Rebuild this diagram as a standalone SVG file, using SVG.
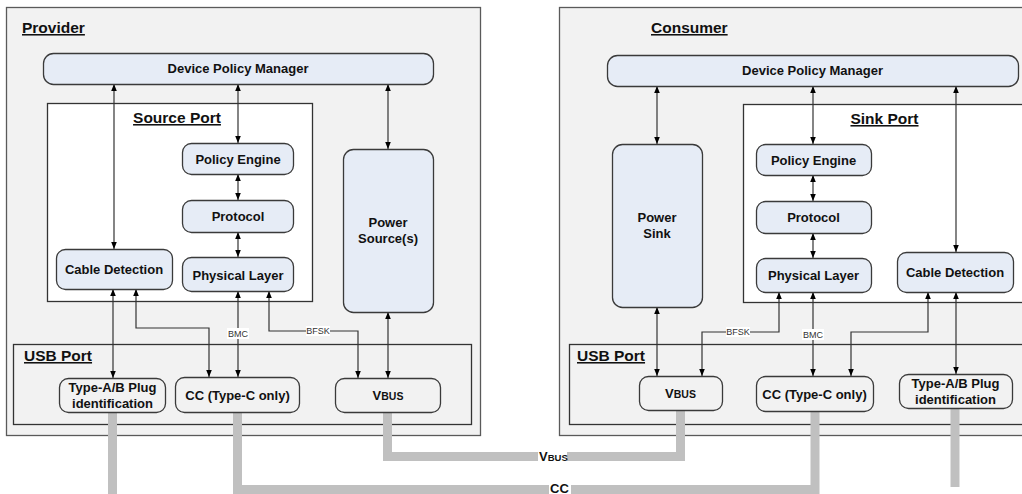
<svg xmlns="http://www.w3.org/2000/svg" width="1022" height="494" viewBox="0 0 1022 494">
<style>
text{font-family:"Liberation Sans",Arial,sans-serif;fill:#111}
.outer{fill:#f2f2f2;stroke:#5a5a5a;stroke-width:1.3}
.port{fill:#ffffff;stroke:#333;stroke-width:1.3}
.usb{fill:#f2f2f2;stroke:#333;stroke-width:1.3}
.blue{fill:#e6ecf6;stroke:#3a3a3a;stroke-width:1.3}
.gray{fill:#f2f2f2;stroke:#3a3a3a;stroke-width:1.3}
.title{font-size:15.5px;font-weight:bold;text-decoration:underline}
.lbl{font-size:13px;font-weight:bold;text-anchor:middle}
.small{font-size:9px;text-anchor:middle;fill:#333}
.conn{fill:none;stroke:#333;stroke-width:1.2;marker-start:url(#ah);marker-end:url(#ah)}
.cable{fill:none;stroke:#c0c0c0;stroke-width:9}
.cl{font-size:13px;font-weight:bold}
</style>
<defs>
<marker id="ah" viewBox="0 0 10 10" refX="10" refY="5" markerWidth="7" markerHeight="7" markerUnits="userSpaceOnUse" orient="auto-start-reverse">
<path d="M0,1 L10,5 L0,9 z" fill="#000"/>
</marker>
</defs>

<g id="provider">
<rect class="outer" x="6.5" y="7.5" width="474" height="428"/>
<text class="title" x="22" y="33">Provider</text>
</g>
<g id="consumer">
<rect class="outer" x="559.5" y="7.5" width="470" height="428"/>
<text class="title" x="651" y="33">Consumer</text>
</g>
<g id="source-port">
<rect class="port" x="47.5" y="103.5" width="265" height="198"/>
<text class="title" x="177" y="123" text-anchor="middle">Source Port</text>
</g>
<g id="sink-port">
<rect class="port" x="743.5" y="104.5" width="290" height="198"/>
<text class="title" x="884.5" y="124" text-anchor="middle">Sink Port</text>
</g>
<g id="usb-port-left">
<rect class="usb" x="13.5" y="344.5" width="458" height="80"/>
<text class="title" x="24" y="361">USB Port</text>
</g>
<g id="usb-port-right">
<rect class="usb" x="569.5" y="344.5" width="470" height="80"/>
<text class="title" x="577" y="361">USB Port</text>
</g>

<g id="cables">
<polyline class="cable" points="112.5,412 112.5,494"/>
<polyline class="cable" points="237.5,412 237.5,489.5 815,489.5 815,411"/>
<polyline class="cable" points="387.5,412 387.5,456.5 680.5,456.5 680.5,410"/>
<polyline class="cable" points="955,408 955,487"/>
<rect x="538" y="450" width="29" height="13" fill="#fff"/>
<text class="cl" x="539" y="461">V<tspan font-size="9.5px">BUS</tspan></text>
<rect x="549" y="483" width="22" height="11" fill="#fff"/>
<text class="cl" x="550" y="492.5">CC</text>
</g>

<g id="connectors">
<line class="conn" x1="114" y1="84" x2="114" y2="249"/>
<line class="conn" x1="238" y1="84" x2="238" y2="143"/>
<line class="conn" x1="238" y1="174" x2="238" y2="200"/>
<line class="conn" x1="238" y1="232" x2="238" y2="257"/>
<line class="conn" x1="388" y1="84" x2="388" y2="149"/>
<line class="conn" x1="113" y1="289" x2="113" y2="378"/>
<polyline class="conn" points="136,289 136,328 209,328 209,377"/>
<line class="conn" x1="238" y1="291" x2="238" y2="377"/>
<polyline class="conn" points="269,291 269,331 358,331 358,378"/>
<line class="conn" x1="388" y1="312" x2="388" y2="378"/>

<line class="conn" x1="657" y1="86" x2="657" y2="144"/>
<line class="conn" x1="813" y1="86" x2="813" y2="144"/>
<line class="conn" x1="813" y1="175" x2="813" y2="201"/>
<line class="conn" x1="813" y1="233" x2="813" y2="258"/>
<line class="conn" x1="956" y1="86" x2="956" y2="252"/>
<line class="conn" x1="657" y1="307" x2="657" y2="376"/>
<polyline class="conn" points="779,292 779,332 702,332 702,376"/>
<line class="conn" x1="813" y1="292" x2="813" y2="376"/>
<polyline class="conn" points="928,292 928,332 851,332 851,376"/>
<line class="conn" x1="956" y1="292" x2="956" y2="374"/>

<rect x="227" y="328" width="22" height="11" fill="#fff"/>
<text class="small" x="238" y="337">BMC</text>
<rect x="306" y="326" width="24" height="10" fill="#fff"/>
<text class="small" x="318" y="334">BFSK</text>
<rect x="802" y="329" width="22" height="11" fill="#fff"/>
<text class="small" x="813" y="338">BMC</text>
<rect x="726" y="327" width="24" height="10" fill="#fff"/>
<text class="small" x="738" y="335">BFSK</text>
</g>

<g id="dpm-left">
<rect class="blue" x="43.5" y="53.5" width="390" height="31" rx="10"/>
<text class="lbl" x="238" y="73">Device Policy Manager</text>
</g>
<g id="policy-engine-left">
<rect class="blue" x="182.5" y="143.5" width="111" height="31" rx="9"/>
<text class="lbl" x="238" y="163.5">Policy Engine</text>
</g>
<g id="protocol-left">
<rect class="blue" x="182.5" y="200.5" width="111" height="32" rx="9"/>
<text class="lbl" x="238" y="221">Protocol</text>
</g>
<g id="physical-left">
<rect class="blue" x="182.5" y="257.5" width="111" height="34" rx="9"/>
<text class="lbl" x="238" y="279.5">Physical Layer</text>
</g>
<g id="cable-detection-left">
<rect class="blue" x="56.5" y="249.5" width="116" height="40" rx="9"/>
<text class="lbl" x="114" y="274">Cable Detection</text>
</g>
<g id="power-source">
<rect class="blue" x="343.5" y="149.5" width="90" height="163" rx="10"/>
<text class="lbl" x="388" y="227">Power</text>
<text class="lbl" x="388" y="243">Source(s)</text>
</g>
<g id="typeab-left">
<rect class="gray" x="59.5" y="378.5" width="106" height="34" rx="9"/>
<text class="lbl" x="112.5" y="392">Type-A/B Plug</text>
<text class="lbl" x="112.5" y="408">identification</text>
</g>
<g id="cc-left">
<rect class="gray" x="175.5" y="377.5" width="124" height="35" rx="9"/>
<text class="lbl" x="237.5" y="400">CC (Type-C only)</text>
</g>
<g id="vbus-left">
<rect class="gray" x="335.5" y="378.5" width="105" height="34" rx="9"/>
<text class="lbl" x="388" y="400">V<tspan font-size="10.5px">BUS</tspan></text>
</g>

<g id="dpm-right">
<rect class="blue" x="607.5" y="55.5" width="411" height="31" rx="10"/>
<text class="lbl" x="812.5" y="75">Device Policy Manager</text>
</g>
<g id="power-sink">
<rect class="blue" x="612.5" y="144.5" width="90" height="163" rx="10"/>
<text class="lbl" x="657" y="222">Power</text>
<text class="lbl" x="657" y="238">Sink</text>
</g>
<g id="policy-engine-right">
<rect class="blue" x="756.5" y="144.5" width="115" height="31" rx="9"/>
<text class="lbl" x="813.5" y="164.5">Policy Engine</text>
</g>
<g id="protocol-right">
<rect class="blue" x="756.5" y="201.5" width="115" height="32" rx="9"/>
<text class="lbl" x="813.5" y="222">Protocol</text>
</g>
<g id="physical-right">
<rect class="blue" x="756.5" y="258.5" width="115" height="34" rx="9"/>
<text class="lbl" x="813.5" y="280">Physical Layer</text>
</g>
<g id="cable-detection-right">
<rect class="blue" x="897.5" y="252.5" width="116" height="40" rx="9"/>
<text class="lbl" x="955" y="277">Cable Detection</text>
</g>
<g id="vbus-right">
<rect class="gray" x="639.5" y="376.5" width="83" height="34" rx="9"/>
<text class="lbl" x="680.5" y="398">V<tspan font-size="10.5px">BUS</tspan></text>
</g>
<g id="cc-right">
<rect class="gray" x="756.5" y="376.5" width="117" height="35" rx="9"/>
<text class="lbl" x="814.5" y="398.5">CC (Type-C only)</text>
</g>
<g id="typeab-right">
<rect class="gray" x="899.5" y="374.5" width="113" height="34" rx="9"/>
<text class="lbl" x="955.5" y="388">Type-A/B Plug</text>
<text class="lbl" x="955.5" y="404">identification</text>
</g>
</svg>
